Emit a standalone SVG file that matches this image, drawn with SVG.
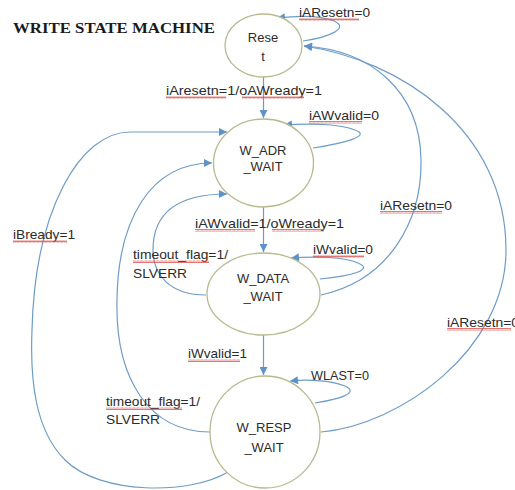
<svg xmlns="http://www.w3.org/2000/svg" width="515" height="490" viewBox="0 0 515 490">
<style>
.node{fill:#ffffff;stroke:#b9b98f;stroke-width:1.3}
.nt{font-family:"Liberation Sans",Arial,sans-serif;font-size:13px;fill:#2b2b2b;text-anchor:middle}
.lb{font-family:"Liberation Sans",Arial,sans-serif;font-size:13px;fill:#2b2b2b}
.edge{fill:none;stroke:#6e9cc8;stroke-width:1.2;marker-end:url(#ah)}
.sq{fill:url(#squig)}
.title{font-family:"Liberation Serif","Times New Roman",serif;font-size:14.5px;font-weight:bold;fill:#1a1a1a}
</style>
<defs>
<marker id="ah" viewBox="0 0 10 10" refX="10" refY="5" markerWidth="9" markerHeight="8" markerUnits="userSpaceOnUse" orient="auto">
<path d="M0,0 L10,5 L0,10 Z" fill="#5f92c6"/>
</marker>
<pattern id="squig" x="0" y="0" width="4" height="3" patternUnits="userSpaceOnUse">
<path d="M0,2.5 L1,0.5 L2,2.5 L3,0.5 L4,2.5" fill="none" stroke="#d9534f" stroke-width="0.8"/>
</pattern>
</defs>
<rect width="515" height="490" fill="#ffffff"/>
<text class="title" x="13" y="33" textLength="202" lengthAdjust="spacingAndGlyphs">WRITE STATE MACHINE</text>

<g id="connectors">
<path class="edge" d="M263.5,77 L263.5,118"/>
<path class="edge" d="M263.5,207 L263.5,252"/>
<path class="edge" d="M263.5,335 L263.5,375"/>
<path class="edge" d="M303,41 C330,37 350,28 334,21 C320,15 295,16 277,18"/>
<path class="edge" d="M313,148 C345,143 372,136 355,130 C340,124 310,123 284,125"/>
<path class="edge" d="M320,279 C350,276 375,270 358,263 C345,257 315,256 291,258"/>
<path class="edge" d="M315,403 C340,399 360,393 345,386 C333,381 310,379 290,381"/>
<path class="edge" d="M228,472 C190,495 100,495 65,460 C35,430 30,380 32,330 C35,210 80,132 130,132 L227,132"/>
<path class="edge" d="M210,432 C150,432 115,380 117,300 C118,220 150,163 212,163"/>
<path class="edge" d="M206,295 C170,295 153,275 153,250 C153,215 175,194 227,194"/>
<path class="edge" d="M321,295 C390,280 422,220 421,160 C420,90 370,50 304,46"/>
<path class="edge" d="M321,432 C400,425 506,350 506,250 C506,130 400,60 304,46"/>
</g>

<g id="reset">
<ellipse class="node" cx="263.5" cy="45.5" rx="38.5" ry="31.5"/>
<text class="nt" x="263" y="42">Rese</text>
<text class="nt" x="263" y="61">t</text>
</g>
<g id="w_adr_wait">
<ellipse class="node" cx="263.5" cy="163" rx="50" ry="44"/>
<text class="nt" x="263" y="155">W_ADR</text>
<text class="nt" x="263" y="171">_WAIT</text>
</g>
<g id="w_data_wait">
<ellipse class="node" cx="263.5" cy="294" rx="56.5" ry="41"/>
<text class="nt" x="263" y="283">W_DATA</text>
<text class="nt" x="263" y="301">_WAIT</text>
</g>
<g id="w_resp_wait">
<ellipse class="node" cx="265" cy="432" rx="55" ry="56"/>
<text class="nt" x="264" y="432">W_RESP</text>
<text class="nt" x="264" y="452">_WAIT</text>
</g>

<g id="labels">
<text class="lb" x="299" y="17" textLength="71" lengthAdjust="spacingAndGlyphs">iAResetn=0</text>
<text class="lb" x="166" y="95" textLength="156" lengthAdjust="spacingAndGlyphs">iAresetn=1/oAWready=1</text>
<text class="lb" x="309" y="120" textLength="70" lengthAdjust="spacingAndGlyphs">iAWvalid=0</text>
<text class="lb" x="195" y="228" textLength="149" lengthAdjust="spacingAndGlyphs">iAWvalid=1/oWready=1</text>
<text class="lb" x="313" y="254" textLength="60" lengthAdjust="spacingAndGlyphs">iWvalid=0</text>
<text class="lb" x="380" y="210" textLength="72" lengthAdjust="spacingAndGlyphs">iAResetn=0</text>
<text class="lb" x="447" y="327" textLength="72" lengthAdjust="spacingAndGlyphs">iAResetn=0</text>
<text class="lb" x="13" y="239" textLength="62" lengthAdjust="spacingAndGlyphs">iBready=1</text>
<text class="lb" x="133" y="259" textLength="95" lengthAdjust="spacingAndGlyphs">timeout_flag=1/</text>
<text class="lb" x="133" y="278" textLength="54" lengthAdjust="spacingAndGlyphs">SLVERR</text>
<text class="lb" x="188" y="358" textLength="59" lengthAdjust="spacingAndGlyphs">iWvalid=1</text>
<text class="lb" x="106" y="406" textLength="94" lengthAdjust="spacingAndGlyphs">timeout_flag=1/</text>
<text class="lb" x="106" y="424" textLength="54" lengthAdjust="spacingAndGlyphs">SLVERR</text>
<text class="lb" x="311" y="380" textLength="58" lengthAdjust="spacingAndGlyphs">WLAST=0</text>
</g>

<g id="spellmarks">
<rect class="sq" x="299" y="18" width="60" height="3"/>
<rect class="sq" x="166" y="96" width="60" height="3"/>
<rect class="sq" x="242" y="96" width="62" height="3"/>
<rect class="sq" x="309" y="121" width="53" height="3"/>
<rect class="sq" x="195" y="229" width="60" height="3"/>
<rect class="sq" x="272" y="229" width="52" height="3"/>
<rect class="sq" x="313" y="255" width="51" height="3"/>
<rect class="sq" x="380" y="211" width="62" height="3"/>
<rect class="sq" x="447" y="328" width="64" height="3"/>
<rect class="sq" x="13" y="240" width="54" height="3"/>
<rect class="sq" x="133" y="260" width="76" height="3"/>
<rect class="sq" x="188" y="359" width="52" height="3"/>
<rect class="sq" x="106" y="407" width="76" height="3"/>
</g>
</svg>
